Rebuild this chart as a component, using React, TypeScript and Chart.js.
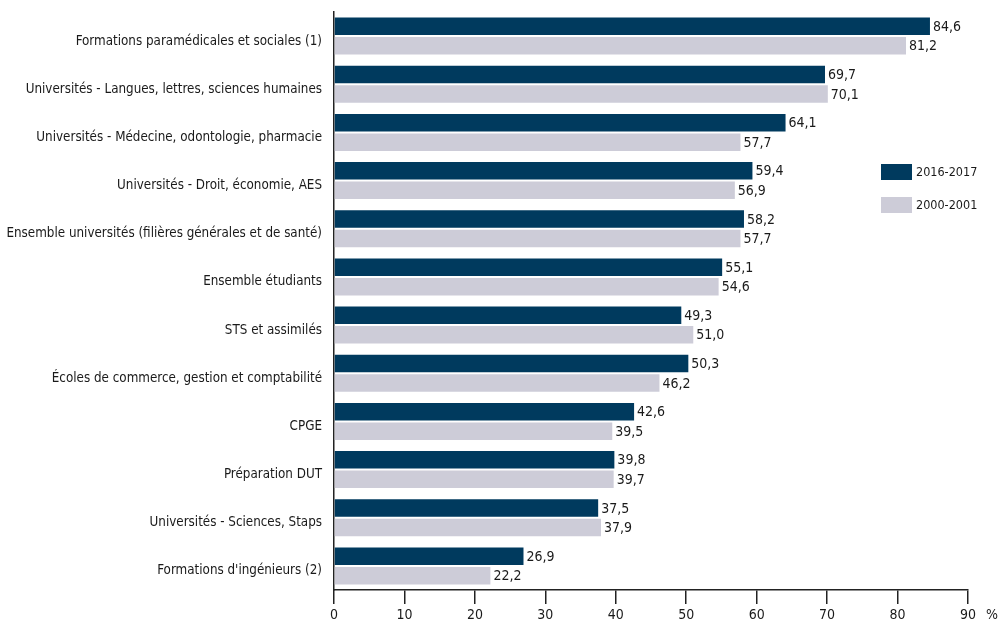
import React, { useEffect, useRef } from "react";
import { Chart, registerables } from "chart.js";

Chart.register(...registerables);

const categories = [
  "Formations paramédicales et sociales (1)",
  "Universités - Langues, lettres, sciences humaines",
  "Universités - Médecine, odontologie, pharmacie",
  "Universités - Droit, économie, AES",
  "Ensemble universités (filières générales et de santé)",
  "Ensemble étudiants",
  "STS et assimilés",
  "Écoles de commerce, gestion et comptabilité",
  "CPGE",
  "Préparation DUT",
  "Universités - Sciences, Staps",
  "Formations d'ingénieurs (2)",
];

const series2016 = [84.6, 69.7, 64.1, 59.4, 58.2, 55.1, 49.3, 50.3, 42.6, 39.8, 37.5, 26.9];
const series2000 = [81.2, 70.1, 57.7, 56.9, 57.7, 54.6, 51.0, 46.2, 39.5, 39.7, 37.9, 22.2];

const seriesLabels = ["2016-2017", "2000-2001"];
const xTicks = [0, 10, 20, 30, 40, 50, 60, 70, 80, 90];
const unitLabel = "%";

const DARK = "#003a5e";
const LIGHT = "#cdccd8";
const TEXT = "#1a1a1a";
const FONT = "'DejaVu Sans Condensed', 'Liberation Sans', sans-serif";
const FS = 13.3;
const NUM_FS = 14;

const extrasPlugin = {
  id: "extras",
  afterDatasetsDraw(chart: any) {
    const ctx = chart.ctx;
    ctx.save();
    ctx.font = `${NUM_FS}px ${FONT}`;
    ctx.fillStyle = TEXT;
    ctx.textAlign = "left";
    ctx.textBaseline = "middle";
    chart.data.datasets.forEach((ds: any, di: number) => {
      const meta = chart.getDatasetMeta(di);
      meta.data.forEach((bar: any, i: number) => {
        const v = ds.data[i] as number;
        ctx.fillText(v.toFixed(1).replace(".", ","), bar.x + 3, bar.y + 1);
      });
    });
    const xs = chart.scales.x;
    ctx.fillText(unitLabel, xs.right + 18, 615);
    ctx.font = `12.5px ${FONT}`;
    const lx = 881;
    const ly = [164, 197];
    const colors = [DARK, LIGHT];
    seriesLabels.forEach((lab, i) => {
      ctx.fillStyle = colors[i];
      ctx.fillRect(lx, ly[i], 31, 16);
      ctx.fillStyle = TEXT;
      ctx.fillText(lab, lx + 35, ly[i] + 8.5);
    });
    ctx.restore();
  },
};

export default function App() {
  const ref = useRef<HTMLCanvasElement | null>(null);
  useEffect(() => {
    document.body.style.margin = "0";
    const canvas = ref.current!;
    const chart = new Chart(canvas, {
      type: "bar",
      data: {
        labels: categories,
        datasets: [
          {
            label: seriesLabels[0],
            data: series2016,
            backgroundColor: DARK,
            categoryPercentage: 0.81,
            barPercentage: 0.9,
          },
          {
            label: seriesLabels[1],
            data: series2000,
            backgroundColor: LIGHT,
            categoryPercentage: 0.81,
            barPercentage: 0.9,
          },
        ],
      },
      options: {
        indexAxis: "y",
        animation: false,
        responsive: false,
        maintainAspectRatio: false,
        layout: { padding: { top: 12, right: 33, left: 0, bottom: 0 } },
        plugins: {
          legend: { display: false },
          tooltip: { enabled: false },
        },
        scales: {
          x: {
            min: 0,
            max: 90,
            afterBuildTicks: (scale: any) => {
              scale.ticks = xTicks.map((v) => ({ value: v }));
            },
            afterFit: (scale: any) => {
              scale.height = 33;
              scale.paddingLeft = 0;
              scale.paddingRight = 0;
            },
            grid: {
              drawOnChartArea: false,
              drawTicks: true,
              tickLength: 14,
              color: "#222",
              lineWidth: 1.5,
            },
            border: { display: true, color: "#222", width: 1.5 },
            ticks: {
              color: TEXT,
              font: { family: FONT, size: NUM_FS },
              padding: 3,
              maxRotation: 0,
              autoSkip: false,
            },
          },
          y: {
            afterFit: (scale: any) => {
              scale.width = 334;
              scale.paddingTop = 0;
              scale.paddingBottom = 0;
            },
            grid: { drawOnChartArea: false, drawTicks: false },
            border: { display: true, color: "#222", width: 1.5 },
            ticks: {
              color: TEXT,
              font: { family: FONT, size: FS },
              padding: 12,
              labelOffset: 5,
              autoSkip: false,
            },
          },
        },
      },
      plugins: [extrasPlugin],
    });
    return () => chart.destroy();
  }, []);
  return (
    <div style={{ position: "fixed", left: 0, top: 0, width: 1001, height: 623, background: "#fff" }}>
      <canvas ref={ref} width={1001} height={623} style={{ width: 1001, height: 623 }} />
    </div>
  );
}
